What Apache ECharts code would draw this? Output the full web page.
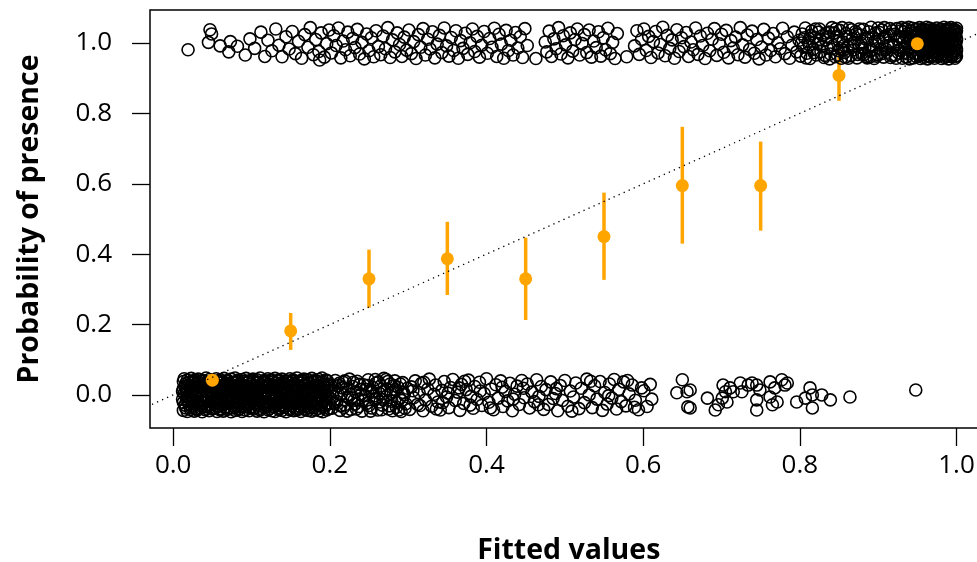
<!DOCTYPE html>
<html>
<head>
<meta charset="utf-8">
<script src="https://cdn.jsdelivr.net/npm/echarts@6/dist/echarts.min.js"></script>
<style>
html,body{margin:0;padding:0;background:#fff;}
#chart{width:977px;height:562px;}
</style>
</head>
<body>
<div id="chart"></div>
<script>
// Tick labels
const xTicks = [0, 0.2, 0.4, 0.6, 0.8, 1.0];
const yTicks = [0, 0.2, 0.4, 0.6, 0.8, 1.0];

// Observed absences (y jittered around 0)
const absences = [
[0.013,-0.044],[0.018,-0.047],[0.022,-0.041],[0.027,-0.046],[0.031,-0.043],[0.037,-0.048],[0.041,-0.042],[0.046,-0.045],[0.050,-0.040],[0.056,-0.047],[0.060,-0.043],[0.064,-0.046],[0.069,-0.041],[0.074,-0.048],[0.079,-0.044],[0.083,-0.042],[0.088,-0.047],[0.092,-0.043],[0.097,-0.045],[0.103,-0.040],[0.107,-0.046],[0.111,-0.043],[0.116,-0.048],[0.121,-0.042],[0.126,-0.045],[0.130,-0.047],[0.135,-0.041],[0.139,-0.044],[0.144,-0.048],[0.149,-0.042],[0.154,-0.045],[0.158,-0.043],[0.163,-0.047],[0.168,-0.041],[0.172,-0.044],[0.177,-0.046],[0.182,-0.042],[0.187,-0.045],[0.191,-0.048],[0.196,-0.043],
[0.015,-0.029],[0.020,-0.025],[0.024,-0.032],[0.029,-0.027],[0.034,-0.030],[0.039,-0.024],[0.043,-0.033],[0.048,-0.028],[0.053,-0.026],[0.058,-0.031],[0.062,-0.027],[0.067,-0.034],[0.071,-0.025],[0.076,-0.030],[0.081,-0.028],[0.086,-0.032],[0.090,-0.026],[0.095,-0.029],[0.100,-0.033],[0.105,-0.027],[0.109,-0.030],[0.114,-0.025],[0.119,-0.031],[0.123,-0.028],[0.128,-0.033],[0.133,-0.026],[0.137,-0.029],[0.142,-0.032],[0.147,-0.027],[0.151,-0.030],[0.156,-0.025],[0.161,-0.031],[0.165,-0.028],[0.170,-0.033],[0.175,-0.026],[0.179,-0.030],[0.184,-0.027],[0.189,-0.032],[0.194,-0.029],[0.199,-0.025],
[0.012,-0.012],[0.017,-0.016],[0.021,-0.010],[0.026,-0.014],[0.030,-0.018],[0.035,-0.011],[0.040,-0.015],[0.044,-0.009],[0.049,-0.017],[0.054,-0.012],[0.058,-0.014],[0.063,-0.019],[0.068,-0.010],[0.072,-0.015],[0.077,-0.012],[0.082,-0.017],[0.087,-0.011],[0.091,-0.014],[0.096,-0.018],[0.101,-0.010],[0.106,-0.013],[0.110,-0.016],[0.115,-0.011],[0.120,-0.019],[0.124,-0.013],[0.129,-0.010],[0.134,-0.015],[0.138,-0.012],[0.143,-0.017],[0.148,-0.011],[0.152,-0.014],[0.157,-0.018],[0.162,-0.012],[0.166,-0.009],[0.171,-0.016],[0.176,-0.013],[0.180,-0.010],[0.185,-0.017],[0.190,-0.014],[0.195,-0.011],
[0.014,0.003],[0.019,-0.002],[0.023,0.005],[0.028,0.000],[0.033,0.004],[0.038,-0.003],[0.042,0.002],[0.047,0.006],[0.052,-0.001],[0.057,0.003],[0.061,0.000],[0.066,0.005],[0.070,-0.004],[0.075,0.002],[0.080,0.006],[0.084,-0.001],[0.089,0.003],[0.094,-0.003],[0.098,0.004],[0.102,0.001],[0.108,-0.002],[0.112,0.005],[0.117,0.000],[0.122,0.003],[0.127,-0.004],[0.131,0.002],[0.136,0.006],[0.140,-0.001],[0.145,0.003],[0.150,0.000],[0.155,0.005],[0.159,-0.003],[0.164,0.002],[0.169,0.004],[0.173,-0.002],[0.178,0.001],[0.183,0.006],[0.188,-0.001],[0.192,0.003],[0.197,0.000],
[0.013,0.018],[0.017,0.014],[0.022,0.020],[0.026,0.016],[0.031,0.013],[0.036,0.019],[0.040,0.015],[0.045,0.021],[0.049,0.012],[0.055,0.017],[0.059,0.020],[0.063,0.014],[0.068,0.018],[0.073,0.013],[0.078,0.021],[0.082,0.016],[0.087,0.019],[0.091,0.012],[0.096,0.017],[0.100,0.020],[0.105,0.015],[0.110,0.018],[0.114,0.013],[0.119,0.021],[0.124,0.016],[0.128,0.019],[0.133,0.014],[0.138,0.017],[0.142,0.021],[0.147,0.012],[0.152,0.018],[0.156,0.015],[0.161,0.020],[0.166,0.013],[0.170,0.017],[0.175,0.021],[0.180,0.014],[0.184,0.019],[0.189,0.016],[0.194,0.012],
[0.016,0.032],[0.020,0.028],[0.025,0.035],[0.029,0.030],[0.034,0.027],[0.039,0.033],[0.043,0.029],[0.048,0.036],[0.052,0.031],[0.057,0.026],[0.062,0.034],[0.066,0.030],[0.071,0.033],[0.076,0.027],[0.080,0.035],[0.085,0.031],[0.089,0.028],[0.094,0.034],[0.099,0.030],[0.104,0.026],[0.108,0.033],[0.113,0.029],[0.118,0.035],[0.122,0.031],[0.127,0.027],[0.132,0.034],[0.136,0.030],[0.141,0.033],[0.146,0.028],[0.150,0.035],[0.155,0.031],[0.160,0.027],[0.164,0.034],[0.169,0.029],[0.174,0.032],[0.178,0.036],[0.183,0.028],[0.188,0.033],[0.193,0.030],[0.198,0.026],
[0.014,0.046],[0.018,0.042],[0.023,0.047],[0.028,0.043],[0.032,0.045],[0.037,0.041],[0.042,0.048],[0.046,0.044],[0.051,0.040],[0.055,0.046],[0.060,0.043],[0.065,0.047],[0.069,0.041],[0.074,0.045],[0.079,0.048],[0.083,0.042],[0.088,0.044],[0.093,0.047],[0.097,0.040],[0.102,0.045],[0.107,0.043],[0.111,0.048],[0.116,0.041],[0.121,0.046],[0.125,0.043],[0.130,0.047],[0.135,0.042],[0.139,0.045],[0.144,0.040],[0.149,0.046],[0.153,0.043],[0.158,0.048],[0.163,0.041],[0.167,0.045],[0.172,0.043],[0.177,0.047],[0.181,0.041],[0.186,0.044],[0.190,0.048],[0.195,0.042],
[0.016,-0.037],[0.022,-0.035],[0.029,-0.039],[0.035,-0.036],[0.041,-0.038],[0.047,-0.034],[0.054,-0.037],[0.060,-0.039],[0.066,-0.035],[0.073,-0.038],[0.079,-0.036],[0.085,-0.039],[0.091,-0.034],[0.098,-0.037],[0.104,-0.035],[0.110,-0.038],[0.117,-0.036],[0.123,-0.039],[0.129,-0.034],[0.136,-0.037],[0.142,-0.035],[0.148,-0.038],[0.155,-0.036],[0.161,-0.039],[0.167,-0.034],[0.174,-0.037],[0.180,-0.035],[0.186,-0.038],[0.193,-0.036],[0.199,-0.039],
[0.013,-0.021],[0.019,-0.019],[0.025,-0.023],[0.032,-0.020],[0.038,-0.022],[0.044,-0.018],[0.051,-0.021],[0.057,-0.023],[0.063,-0.019],[0.070,-0.022],[0.076,-0.020],[0.082,-0.023],[0.089,-0.018],[0.095,-0.021],[0.101,-0.019],[0.108,-0.022],[0.114,-0.020],[0.120,-0.023],[0.127,-0.018],[0.133,-0.021],[0.139,-0.019],[0.146,-0.022],[0.152,-0.020],[0.158,-0.023],[0.165,-0.018],[0.171,-0.021],[0.177,-0.019],[0.184,-0.022],[0.190,-0.020],[0.196,-0.023],
[0.017,-0.006],[0.023,-0.004],[0.030,-0.007],[0.036,-0.005],[0.042,-0.008],[0.049,-0.004],[0.055,-0.006],[0.061,-0.007],[0.068,-0.005],[0.074,-0.008],[0.080,-0.004],[0.087,-0.006],[0.093,-0.007],[0.099,-0.005],[0.106,-0.008],[0.112,-0.004],[0.118,-0.006],[0.125,-0.007],[0.131,-0.005],[0.137,-0.008],[0.144,-0.004],[0.150,-0.006],[0.156,-0.007],[0.163,-0.005],[0.169,-0.008],[0.175,-0.004],[0.182,-0.006],[0.188,-0.007],[0.194,-0.005],[0.200,-0.008],
[0.012,0.010],[0.018,0.008],[0.025,0.011],[0.031,0.009],[0.037,0.012],[0.044,0.008],[0.050,0.010],[0.056,0.011],[0.063,0.009],[0.069,0.012],[0.075,0.008],[0.082,0.010],[0.088,0.011],[0.094,0.009],[0.101,0.012],[0.107,0.008],[0.113,0.010],[0.120,0.011],[0.126,0.009],[0.132,0.012],[0.139,0.008],[0.145,0.010],[0.151,0.011],[0.158,0.009],[0.164,0.012],[0.170,0.008],[0.177,0.010],[0.183,0.011],[0.189,0.009],[0.196,0.012],
[0.015,0.024],[0.021,0.022],[0.028,0.025],[0.034,0.023],[0.040,0.026],[0.047,0.022],[0.053,0.024],[0.059,0.025],[0.066,0.023],[0.072,0.026],[0.078,0.022],[0.085,0.024],[0.091,0.025],[0.097,0.023],[0.104,0.026],[0.110,0.022],[0.116,0.024],[0.123,0.025],[0.129,0.023],[0.135,0.026],[0.142,0.022],[0.148,0.024],[0.154,0.025],[0.161,0.023],[0.167,0.026],[0.173,0.022],[0.180,0.024],[0.186,0.025],[0.192,0.023],[0.199,0.026],
[0.013,0.038],[0.020,0.036],[0.026,0.039],[0.032,0.037],[0.039,0.040],[0.045,0.036],[0.051,0.038],[0.058,0.039],[0.064,0.037],[0.070,0.040],[0.077,0.036],[0.083,0.038],[0.089,0.039],[0.096,0.037],[0.102,0.040],[0.108,0.036],[0.115,0.038],[0.121,0.039],[0.127,0.037],[0.134,0.040],[0.140,0.036],[0.146,0.038],[0.153,0.039],[0.159,0.037],[0.165,0.040],[0.172,0.036],[0.178,0.038],[0.184,0.039],[0.191,0.037],[0.197,0.040],
[0.203,-0.038],[0.205,0.012],[0.207,0.041],[0.209,-0.019],[0.211,0.027],[0.213,-0.044],[0.215,0.003],[0.217,0.036],[0.219,-0.028],[0.221,0.018],[0.223,-0.007],[0.225,0.045],[0.227,-0.041],[0.229,0.024],[0.231,-0.015],[0.233,0.008],[0.235,0.039],[0.237,-0.033],[0.239,0.015],[0.241,-0.046],[0.243,0.029],[0.245,-0.002],[0.247,-0.024],[0.249,0.043],[0.251,0.010],[0.253,-0.037],[0.255,0.021],[0.257,-0.012],[0.259,0.034],[0.261,-0.043],[0.263,0.005],[0.265,0.026],[0.267,-0.029],[0.269,0.047],[0.271,-0.006],[0.273,0.016],[0.275,-0.040],[0.277,0.031],[0.279,-0.018],[0.281,0.009],[0.283,0.040],[0.285,-0.035],[0.287,0.022],[0.289,-0.010],[0.291,-0.047],[0.293,0.035],[0.295,0.001],[0.297,-0.025],[0.299,0.019],
[0.204,-0.005],[0.212,0.033],[0.218,-0.035],[0.226,0.001],[0.232,-0.026],[0.238,0.030],[0.246,0.016],[0.252,-0.046],[0.258,0.044],[0.264,-0.020],[0.270,0.012],[0.276,-0.031],[0.282,0.027],[0.288,-0.043],[0.294,0.007],[0.216,0.020],[0.236,-0.012],[0.256,-0.003],[0.274,0.038],[0.292,-0.016],
[0.201,0.028],[0.206,-0.024],[0.210,0.004],[0.214,-0.031],[0.219,0.040],[0.222,-0.046],[0.228,-0.008],[0.230,0.036],[0.234,-0.040],[0.240,0.002],[0.242,-0.016],[0.248,0.027],[0.250,-0.030],[0.254,0.008],[0.260,-0.009],[0.262,0.037],[0.266,-0.042],[0.268,-0.013],[0.272,0.044],[0.278,0.004],[0.280,-0.045],[0.284,0.015],[0.286,-0.022],[0.290,0.031],[0.296,-0.038],
[0.302,-0.041],[0.304,0.023],[0.307,-0.008],[0.309,0.040],[0.312,-0.027],[0.314,0.006],[0.317,0.033],[0.319,-0.045],[0.322,-0.014],[0.325,0.017],[0.327,0.045],[0.330,-0.032],[0.333,0.002],[0.335,0.028],[0.338,-0.020],[0.341,-0.043],[0.343,0.013],[0.346,0.038],[0.349,-0.006],[0.352,-0.036],[0.354,0.021],[0.357,0.044],[0.360,-0.016],[0.363,0.008],[0.366,-0.044],[0.368,0.030],[0.371,-0.024],[0.374,0.015],[0.377,0.042],[0.380,-0.004],[0.383,-0.038],[0.385,0.024],[0.388,-0.013],[0.391,0.036],[0.394,-0.030],[0.397,0.004],[0.400,0.046],[0.403,-0.021],[0.406,0.017],[0.409,-0.042],[0.412,0.029],[0.415,-0.009],[0.418,0.040],[0.421,-0.033],[0.424,0.010],[0.427,-0.017],[0.430,0.033],[0.433,-0.045],[0.436,0.002],[0.439,0.025],[0.442,-0.027],[0.445,0.041],[0.448,-0.008],
[0.306,0.012],[0.320,0.036],[0.336,-0.040],[0.351,0.005],[0.365,0.020],[0.379,-0.029],[0.392,0.011],[0.405,-0.037],[0.420,0.022],[0.434,-0.012],[0.447,0.019],[0.315,-0.030],[0.344,-0.022],[0.372,0.039],
[0.452,0.031],[0.455,-0.037],[0.458,0.008],[0.461,-0.019],[0.464,0.043],[0.467,-0.004],[0.470,0.024],[0.473,-0.041],[0.476,0.015],[0.479,-0.027],[0.482,0.037],[0.485,-0.010],[0.488,0.004],[0.491,-0.045],[0.494,0.027],[0.497,-0.016],[0.500,0.041],[0.504,-0.032],[0.507,0.011],[0.511,-0.006],[0.514,0.034],[0.518,-0.039],[0.521,0.019],[0.525,-0.022],[0.528,0.045],[0.531,0.000],[0.535,-0.036],[0.538,0.026],[0.541,-0.012],[0.545,0.038],[0.548,-0.044],[0.551,0.007],[0.554,-0.026],[0.557,0.031],[0.560,-0.009],[0.563,0.044],[0.566,-0.040],[0.569,0.016],[0.572,-0.019],[0.575,0.037],[0.578,-0.031],[0.582,0.003],[0.586,0.028],[0.590,-0.015],[0.594,-0.042],[0.598,0.020],
[0.466,-0.028],[0.489,0.018],[0.509,-0.046],[0.533,0.039],[0.556,-0.002],[0.580,0.041],[0.589,-0.035],
[0.601,0.012],[0.605,-0.033],[0.609,0.030],[0.611,-0.012],[0.643,0.006],[0.650,0.043],[0.656,0.009],[0.657,-0.034],
[0.660,0.014],[0.660,-0.037],[0.682,-0.009],[0.692,-0.043],[0.696,-0.028],[0.701,-0.009],[0.702,0.028],[0.705,0.009],[0.707,-0.020],[0.711,0.020],[0.715,0.009],[0.724,0.034],[0.726,0.009],[0.734,0.028],[0.739,0.034],[0.745,0.028],[0.745,-0.014],[0.745,-0.043],[0.749,0.014],[0.762,0.037],[0.762,-0.006],[0.765,-0.028],[0.768,0.020],[0.771,-0.020],[0.777,0.043],[0.781,0.028],[0.784,0.034],[0.796,-0.020],[0.807,-0.009],[0.813,0.020],[0.816,0.000],[0.816,-0.037],[0.828,0.000],[0.839,-0.014],[0.864,-0.006],[0.948,0.014]
];

// Observed presences (y jittered around 1)
const presences = [
[0.019,0.981],[0.045,1.002],[0.047,1.038],[0.049,1.026],[0.060,0.992],[0.071,0.975],[0.073,1.004],[0.082,0.991],[0.092,0.966],[0.098,1.012],[0.104,0.985],[0.112,1.031],[0.117,0.962],[0.121,1.008],[0.126,0.978],[0.131,1.040],[0.135,0.994],[0.139,0.961],[0.144,1.018],[0.148,0.983],[0.152,1.033],[0.156,0.970],[0.160,1.005],[0.164,0.957],[0.168,1.024],[0.172,0.988],[0.175,1.044],[0.179,0.967],[0.182,1.010],[0.186,0.976],[0.189,1.029],[0.193,0.960],[0.196,0.998],[0.199,1.037],[0.187,0.952],
[0.202,0.972],[0.205,1.021],[0.208,0.993],[0.211,1.043],[0.214,0.958],[0.217,1.006],[0.220,0.981],[0.223,1.031],[0.226,0.964],[0.229,1.013],[0.232,0.987],[0.235,1.039],[0.238,0.969],[0.241,1.002],[0.244,0.955],[0.247,1.026],[0.250,0.978],[0.253,1.015],[0.256,0.961],[0.259,1.035],[0.262,0.990],[0.265,0.967],[0.268,1.020],[0.271,0.984],[0.274,1.044],[0.277,0.959],[0.280,1.009],[0.283,0.975],[0.286,1.029],[0.289,0.996],[0.292,0.962],[0.295,1.017],[0.298,0.980],[0.301,1.037],[0.304,0.970],[0.307,1.004],[0.310,0.956],[0.313,1.024],[0.316,0.988],[0.319,1.041],[0.322,0.966],[0.325,1.011],[0.328,0.983],[0.331,1.032],[0.334,0.958],[0.337,0.997],[0.340,1.022],[0.343,0.973],[0.346,1.043],[0.349,0.992],[0.352,0.963],[0.355,1.016],[0.358,0.979],[0.361,1.035],[0.364,0.957],[0.367,1.007],[0.370,0.985],[0.373,1.028],[0.376,0.968],[0.379,1.001],[0.382,1.040],[0.385,0.976],[0.388,1.019],[0.391,0.960],[0.394,0.994],[0.397,1.033],
[0.401,0.971],[0.404,1.013],[0.407,0.988],[0.410,1.042],[0.413,0.962],[0.416,1.025],[0.419,0.997],[0.422,0.957],[0.425,1.036],[0.428,0.979],[0.431,1.008],[0.434,0.966],[0.437,1.030],[0.440,0.986],[0.443,1.018],[0.446,0.959],[0.449,1.041],[0.452,0.993],[0.463,0.956],[0.475,1.003],[0.477,0.975],[0.480,1.034],[0.483,0.962],[0.486,1.012],[0.489,0.984],[0.492,1.044],[0.495,0.969],[0.498,1.021],[0.501,0.995],[0.504,0.958],[0.507,1.029],[0.510,0.977],[0.513,1.010],[0.516,1.040],[0.519,0.966],[0.522,0.999],[0.525,1.024],[0.528,0.973],[0.531,1.037],[0.534,0.960],[0.537,1.006],[0.540,0.987],[0.543,1.032],[0.546,0.963],[0.549,1.015],[0.552,0.981],[0.555,1.042],[0.558,0.970],[0.561,1.002],[0.564,0.956],[0.567,1.027],[0.579,0.961],[0.589,0.992],[0.592,1.035],[0.595,0.968],[0.598,1.011],
[0.601,1.040],[0.604,0.979],[0.607,1.019],[0.610,0.959],[0.613,1.004],[0.616,1.033],[0.619,0.972],[0.622,0.996],[0.625,1.045],[0.628,0.964],[0.631,1.022],[0.634,0.985],[0.637,1.009],[0.640,0.957],[0.643,1.038],[0.646,0.976],[0.649,1.015],[0.652,0.990],[0.655,1.030],[0.658,0.962],[0.661,1.003],[0.664,0.981],[0.667,1.043],[0.670,0.968],[0.673,1.020],[0.676,0.993],[0.679,0.956],[0.682,1.028],[0.685,0.978],[0.688,1.011],[0.691,1.041],[0.694,0.965],[0.697,0.998],[0.700,1.025],[0.703,0.974],[0.706,1.036],[0.709,0.958],[0.712,1.007],[0.715,0.986],[0.718,1.017],[0.721,0.967],[0.724,1.044],[0.727,0.995],[0.730,0.960],[0.733,1.023],[0.736,0.982],[0.739,1.034],[0.742,0.971],[0.745,1.010],[0.748,0.955],[0.751,0.989],[0.754,1.039],[0.757,0.966],[0.760,1.014],[0.763,0.979],[0.766,1.027],[0.769,0.961],[0.772,1.001],[0.775,0.984],[0.778,1.042],[0.781,0.970],[0.784,1.018],[0.787,0.957],[0.790,0.994],[0.793,1.031],[0.796,0.975],[0.799,1.008],
[0.801,0.963],[0.803,1.026],[0.805,0.988],[0.807,1.043],[0.809,0.971],[0.811,1.005],[0.813,0.956],[0.815,1.034],[0.817,0.982],[0.819,1.016],[0.821,0.966],[0.823,0.998],[0.825,1.040],[0.827,0.976],[0.829,1.021],[0.831,0.959],[0.833,1.009],[0.835,0.986],[0.837,1.031],[0.839,0.969],[0.841,1.044],[0.843,0.993],[0.845,0.961],[0.847,1.019],[0.849,0.979],[0.851,1.036],[0.853,0.957],[0.855,1.003],[0.857,0.973],[0.859,1.027],[0.861,0.990],[0.863,1.042],[0.865,0.964],[0.867,1.012],[0.869,0.981],[0.871,1.033],[0.873,0.958],[0.875,0.997],[0.877,1.023],[0.879,0.970],[0.881,1.039],[0.883,0.985],[0.885,0.962],[0.887,1.015],[0.889,0.977],[0.891,1.045],[0.893,0.994],[0.895,0.956],[0.897,1.029],[0.899,0.968],[0.901,1.007],[0.903,0.983],[0.905,1.037],[0.907,0.960],[0.909,1.020],[0.911,0.974],[0.913,1.001],[0.915,1.041],[0.917,0.965],[0.919,0.989],[0.921,1.025],[0.923,0.957],[0.925,1.011],[0.927,0.980],[0.929,1.035],
[0.812,0.995],[0.826,1.011],[0.838,0.955],[0.852,0.984],[0.866,1.038],[0.878,1.000],[0.890,0.961],[0.902,1.030],[0.912,0.992],[0.922,0.966],[0.928,1.018],[0.908,1.044],[0.894,1.016],[0.882,0.967],[0.870,1.002],[0.858,0.960],[0.846,1.040],[0.834,1.028],[0.820,1.040],[0.806,1.015],
[0.802,1.000],[0.808,0.958],[0.814,1.022],[0.818,0.973],[0.824,1.031],[0.828,0.991],[0.832,0.965],[0.836,1.017],[0.840,0.983],[0.844,1.029],[0.848,0.966],[0.850,1.007],[0.854,1.044],[0.856,0.980],[0.860,1.019],[0.862,0.957],[0.868,0.992],[0.872,1.026],[0.874,0.968],[0.876,1.040],[0.880,0.986],[0.884,1.012],[0.886,0.958],[0.888,1.032],[0.892,0.979],[0.896,1.005],[0.898,0.963],[0.900,1.043],[0.904,0.970],[0.906,1.013],[0.910,0.982],[0.914,1.024],[0.916,0.959],[0.918,1.035],[0.920,0.995],[0.924,1.041],[0.926,0.972],
[0.931,0.957],[0.936,0.960],[0.940,0.955],[0.945,0.958],[0.949,0.961],[0.954,0.956],[0.958,0.959],[0.963,0.955],[0.967,0.960],[0.972,0.957],[0.976,0.962],[0.981,0.956],[0.985,0.959],[0.990,0.955],[0.994,0.961],[0.998,0.957],[1.000,0.963],
[0.933,0.973],[0.938,0.969],[0.942,0.975],[0.947,0.971],[0.951,0.968],[0.956,0.974],[0.960,0.970],[0.965,0.976],[0.969,0.972],[0.974,0.967],[0.978,0.973],[0.983,0.970],[0.987,0.975],[0.992,0.969],[0.996,0.974],[0.999,0.971],
[0.930,0.986],[0.935,0.990],[0.939,0.984],[0.944,0.988],[0.948,0.991],[0.953,0.985],[0.957,0.989],[0.962,0.983],[0.966,0.987],[0.971,0.991],[0.975,0.985],[0.980,0.988],[0.984,0.982],[0.989,0.990],[0.993,0.986],[0.997,0.989],[1.000,0.984],
[0.932,1.003],[0.937,0.999],[0.941,1.005],[0.946,1.001],[0.950,0.997],[0.955,1.004],[0.959,1.000],[0.964,1.006],[0.968,1.002],[0.973,0.998],[0.977,1.004],[0.982,1.001],[0.986,1.006],[0.991,0.999],[0.995,1.003],[0.999,1.000],
[0.931,1.016],[0.936,1.020],[0.940,1.014],[0.945,1.018],[0.949,1.021],[0.954,1.015],[0.958,1.019],[0.963,1.013],[0.967,1.017],[0.972,1.021],[0.976,1.015],[0.981,1.018],[0.985,1.014],[0.990,1.020],[0.994,1.016],[0.998,1.019],[1.000,1.013],
[0.933,1.032],[0.938,1.028],[0.942,1.034],[0.947,1.030],[0.951,1.027],[0.956,1.033],[0.960,1.029],[0.965,1.035],[0.969,1.031],[0.974,1.026],[0.978,1.032],[0.983,1.029],[0.987,1.034],[0.992,1.028],[0.996,1.033],[0.999,1.030],
[0.930,1.044],[0.935,1.041],[0.939,1.045],[0.944,1.042],[0.948,1.039],[0.953,1.044],[0.957,1.040],[0.962,1.045],[0.966,1.042],[0.971,1.038],[0.975,1.043],[0.980,1.040],[0.984,1.045],[0.989,1.041],[0.993,1.044],[0.997,1.039],[1.000,1.042],
[0.952,0.964],[0.958,0.966],[0.964,0.963],[0.970,0.965],[0.976,0.964],[0.982,0.966],[0.988,0.963],[0.994,0.965],[0.999,0.964],
[0.955,0.980],[0.961,0.978],[0.967,0.981],[0.973,0.979],[0.979,0.980],[0.985,0.978],[0.991,0.981],[0.996,0.979],[1.000,0.978],
[0.952,0.995],[0.958,0.993],[0.964,0.996],[0.970,0.994],[0.976,0.995],[0.982,0.993],[0.988,0.996],[0.994,0.994],[0.999,0.993],
[0.955,1.010],[0.961,1.008],[0.967,1.011],[0.973,1.009],[0.979,1.010],[0.985,1.008],[0.991,1.011],[0.996,1.009],[1.000,1.008],
[0.952,1.024],[0.958,1.022],[0.964,1.025],[0.970,1.023],[0.976,1.024],[0.982,1.022],[0.988,1.025],[0.994,1.023],[0.999,1.024],
[0.955,1.037],[0.961,1.035],[0.967,1.038],[0.973,1.036],[0.979,1.037],[0.985,1.035],[0.991,1.038],[0.996,1.036],[1.000,1.035]
];

// Binned observed proportions with intervals
const binMid = [0.05, 0.15, 0.25, 0.35, 0.45, 0.55, 0.65, 0.75, 0.85, 0.95];
const binMean = [0.042, 0.182, 0.330, 0.387, 0.330, 0.450, 0.595, 0.595, 0.908, 0.998];
const binLow = [0.018, 0.128, 0.248, 0.284, 0.213, 0.327, 0.430, 0.467, 0.836, 0.995];
const binHigh = [0.062, 0.233, 0.413, 0.492, 0.447, 0.575, 0.762, 0.720, 0.978, 1.000];

// 1:1 reference line
const refLine = [[-0.2, -0.2], [1.2, 1.2]];

const FONT = '"Open Sans", "Noto Sans", sans-serif';
const chart = echarts.init(document.getElementById('chart'), null, {renderer: 'canvas'});

const option = {
  animation: false,
  backgroundColor: '#ffffff',
  grid: {
    left: 150, top: 10, width: 837.5, height: 418,
    show: true, borderColor: '#000', borderWidth: 1.5, backgroundColor: 'transparent',
    containLabel: false, outerBoundsMode: 'none'
  },
  xAxis: {
    type: 'value', min: -0.0296, max: 1.0396,
    name: 'Fitted values', nameLocation: 'middle', nameGap: 108,
    nameTextStyle: {fontFamily: FONT, fontWeight: 'bold', fontSize: 28.5, color: '#000'},
    axisLine: {show: false, onZero: false},
    axisTick: {show: true, length: 18, inside: false, customValues: xTicks, lineStyle: {color: '#000', width: 1.3}},
    axisLabel: {show: true, customValues: xTicks, margin: 25, fontFamily: FONT, fontSize: 26, color: '#000',
      formatter: v => v.toFixed(1)},
    splitLine: {show: false}
  },
  yAxis: {
    type: 'value', min: -0.094, max: 1.094,
    name: 'Probability of presence', nameLocation: 'middle', nameGap: 106, nameRotate: 90,
    nameTextStyle: {fontFamily: FONT, fontWeight: 'bold', fontSize: 28.5, color: '#000'},
    axisLine: {show: false, onZero: false},
    axisTick: {show: true, length: 18, inside: false, customValues: yTicks, lineStyle: {color: '#000', width: 1.3}},
    axisLabel: {show: true, customValues: yTicks, margin: 38, fontFamily: FONT, fontSize: 26, color: '#000',
      formatter: v => v.toFixed(1)},
    splitLine: {show: false}
  },
  series: [
    {
      type: 'scatter', data: absences.concat(presences), symbol: 'circle', symbolSize: 12,
      large: false, progressive: 0, silent: true,
      itemStyle: {color: 'rgba(0,0,0,0)', borderColor: '#000', borderWidth: 1.6, opacity: 1}
    },
    {
      type: 'line', data: refLine, symbol: 'none', clip: true, silent: true,
      lineStyle: {color: '#000', width: 1.3, type: [1.3, 4.2]}
    },
    {
      type: 'custom', silent: true, clip: true,
      data: binMid.map((m, i) => [m, binLow[i], binHigh[i]]),
      renderItem: function (params, api) {
        const a = api.coord([api.value(0), api.value(1)]);
        const b = api.coord([api.value(0), api.value(2)]);
        return {type: 'line', shape: {x1: a[0], y1: a[1], x2: b[0], y2: b[1]},
          style: {stroke: '#FFA500', lineWidth: 3.5}};
      }
    },
    {
      type: 'scatter', data: binMid.map((m, i) => [m, binMean[i]]), symbol: 'circle', symbolSize: 13,
      silent: true, itemStyle: {color: '#FFA500', borderWidth: 0, opacity: 1}
    }
  ]
};
chart.setOption(option);
</script>
</body>
</html>
